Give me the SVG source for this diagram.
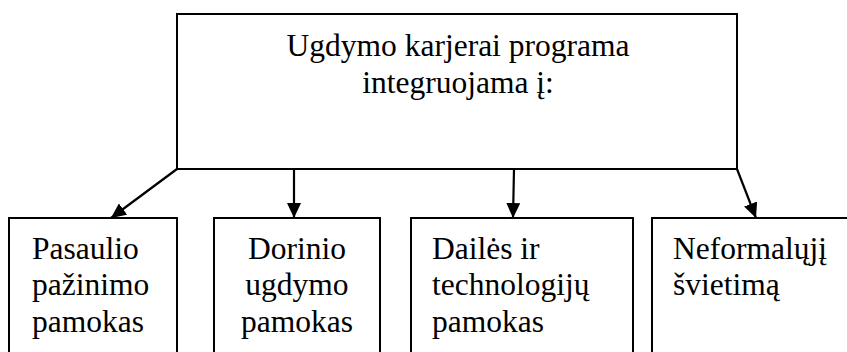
<svg xmlns="http://www.w3.org/2000/svg" width="847" height="352" viewBox="0 0 847 352">
  <style>
    .box { fill: #ffffff; stroke: #000000; stroke-width: 2; }
    .c { text-anchor: middle; }
    .conn { stroke: #000000; stroke-width: 2.2; fill: none; marker-end: url(#arrow); }
  </style>
  <defs>
    <marker id="arrow" markerUnits="userSpaceOnUse" markerWidth="16" markerHeight="14" refX="15" refY="7" orient="auto">
      <path d="M0,0 L15,7 L0,14 Z" fill="#000000"/>
    </marker>
  </defs>
  <rect width="847" height="352" fill="#ffffff"/>

  <g font-family="Liberation Serif, serif" font-size="31.5" fill="#000000">
  <g id="top">
    <rect class="box" x="177" y="14" width="560" height="155"/>
    <text class="c" x="458" y="56">Ugdymo karjerai programa</text>
    <text class="c" x="458" y="93">integruojama į:</text>
  </g>

  <g id="node1">
    <rect class="box" x="9" y="218" width="168" height="150"/>
    <text x="32" y="259">Pasaulio</text>
    <text x="32" y="295">pažinimo</text>
    <text x="32" y="332">pamokas</text>
  </g>

  <g id="node2">
    <rect class="box" x="214" y="218" width="166" height="150"/>
    <text class="c" x="297" y="259">Dorinio</text>
    <text class="c" x="297" y="295">ugdymo</text>
    <text class="c" x="297" y="332">pamokas</text>
  </g>

  <g id="node3">
    <rect class="box" x="411" y="218" width="222" height="150"/>
    <text x="432" y="259">Dailės ir</text>
    <text x="432" y="295">technologijų</text>
    <text x="432" y="332">pamokas</text>
  </g>

  <g id="node4">
    <rect class="box" x="652" y="218" width="210" height="150"/>
    <text x="673" y="259">Neformalųjį</text>
    <text x="673" y="295">švietimą</text>
  </g>
  </g>

  <g id="connectors">
    <line class="conn" x1="177" y1="169" x2="111" y2="218"/>
    <line class="conn" x1="294" y1="169" x2="294" y2="218"/>
    <line class="conn" x1="514" y1="169" x2="513" y2="218"/>
    <line class="conn" x1="737" y1="169" x2="756" y2="218"/>
  </g>
</svg>
